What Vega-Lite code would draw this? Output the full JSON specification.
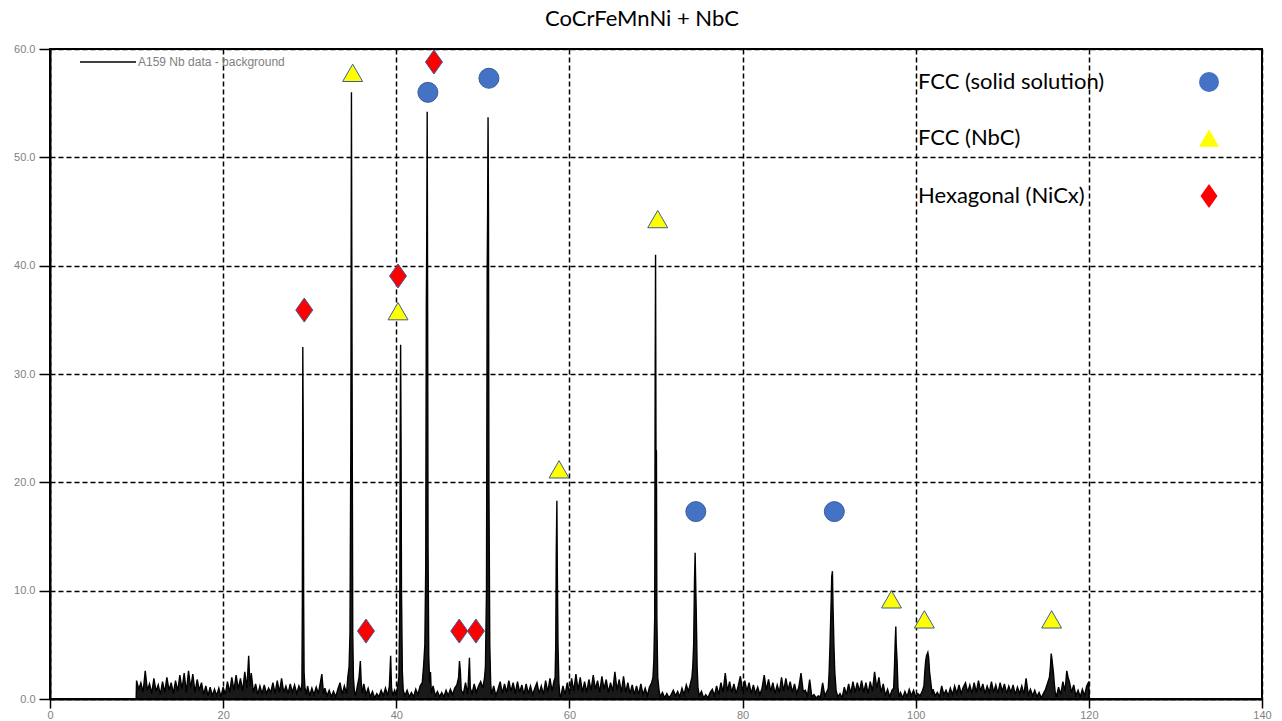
{
"$schema": "https://vega.github.io/schema/vega-lite/v6.json",
"width": 1212, "height": 650,
"autosize": {"type": "none"},
"padding": {"left": 50, "top": 49, "right": 20, "bottom": 22},
"background": "white",
"title": {"text": "CoCrFeMnNi + NbC", "font": "Lato", "fontSize": 22, "fontWeight": "normal", "color": "black", "anchor": "middle", "dx": -14, "offset": 2},
"config": {
  "view": {"stroke": "black", "strokeWidth": 2},
  "axis": {"grid": true, "gridColor": "black", "gridDash": [5, 3], "gridWidth": 1.5, "gridOpacity": 1, "domainColor": "black", "domainWidth": 2, "tickColor": "black", "tickWidth": 1.5, "labelColor": "#7f7f7f", "labelFont": "Liberation Sans", "labelFontSize": 11, "labelFlush": false, "labelOverlap": false, "title": null}
},
"datasets": {
"xrd": [
{"x":9.95,"y":0},{"x":10.0,"y":1.7},{"x":10.25,"y":0.9},{"x":10.5,"y":1.5},{"x":10.75,"y":0.6},{"x":11.0,"y":2.6},{"x":11.25,"y":0.8},{"x":11.5,"y":1.4},{"x":11.75,"y":0.5},{"x":12.0,"y":1.9},{"x":12.25,"y":0.7},{"x":12.5,"y":1.3},{"x":12.75,"y":0.4},{"x":13.0,"y":1.6},{"x":13.25,"y":0.6},{"x":13.5,"y":2.0},{"x":13.75,"y":0.8},{"x":14.0,"y":1.5},{"x":14.25,"y":0.5},{"x":14.5,"y":1.7},{"x":14.75,"y":0.7},{"x":15.0,"y":2.2},{"x":15.25,"y":0.9},{"x":15.5,"y":2.4},{"x":15.75,"y":0.6},{"x":16.0,"y":2.6},{"x":16.25,"y":1.0},{"x":16.5,"y":2.3},{"x":16.75,"y":0.6},{"x":17.0,"y":1.8},{"x":17.25,"y":0.8},{"x":17.5,"y":1.5},{"x":17.75,"y":0.4},{"x":18.0,"y":1.2},{"x":18.25,"y":0.3},{"x":18.5,"y":1.1},{"x":18.75,"y":0.3},{"x":19.0,"y":0.9},{"x":19.25,"y":0.3},{"x":19.5,"y":1.0},{"x":19.75,"y":0.2},{"x":20.0,"y":1.1},{"x":20.25,"y":0.4},{"x":20.5,"y":1.6},{"x":20.75,"y":0.6},{"x":21.0,"y":2.0},{"x":21.25,"y":0.8},{"x":21.5,"y":2.2},{"x":21.75,"y":0.9},{"x":22.0,"y":1.9},{"x":22.25,"y":0.7},{"x":22.5,"y":2.5},{"x":22.75,"y":1.0},{"x":22.95,"y":4.0},{"x":23.1,"y":1.2},{"x":23.25,"y":2.4},{"x":23.5,"y":0.6},{"x":23.75,"y":1.4},{"x":24.0,"y":0.4},{"x":24.25,"y":1.2},{"x":24.5,"y":0.5},{"x":24.75,"y":1.3},{"x":25.0,"y":0.5},{"x":25.25,"y":1.0},{"x":25.5,"y":0.6},{"x":25.75,"y":1.5},{"x":26.0,"y":0.5},{"x":26.25,"y":1.7},{"x":26.5,"y":0.6},{"x":26.75,"y":1.9},{"x":27.0,"y":0.6},{"x":27.25,"y":1.2},{"x":27.5,"y":0.5},{"x":27.75,"y":1.4},{"x":28.0,"y":0.6},{"x":28.25,"y":1.3},{"x":28.5,"y":0.5},{"x":28.75,"y":1.2},{"x":29.0,"y":0.7},
{"x":29.1,"y":1.5},{"x":29.15,"y":8.8},{"x":29.2,"y":32.5},{"x":29.25,"y":24.8},{"x":29.3,"y":9.0},{"x":29.35,"y":2.5},{"x":29.45,"y":1.0},
{"x":29.6,"y":0.4},{"x":29.75,"y":1.2},{"x":30.0,"y":0.3},{"x":30.25,"y":1.0},{"x":30.5,"y":0.4},{"x":30.75,"y":1.1},{"x":31.0,"y":0.5},{"x":31.25,"y":1.6},{"x":31.4,"y":2.3},{"x":31.6,"y":0.4},{"x":31.75,"y":1.0},{"x":32.0,"y":0.3},{"x":32.25,"y":0.8},{"x":32.5,"y":0.2},{"x":32.75,"y":0.7},{"x":33.0,"y":0.2},{"x":33.25,"y":0.9},{"x":33.5,"y":1.5},{"x":33.75,"y":0.4},{"x":34.0,"y":1.2},{"x":34.25,"y":0.5},{"x":34.4,"y":2.0},
{"x":34.55,"y":3.0},{"x":34.65,"y":6.0},{"x":34.75,"y":23.5},{"x":34.82,"y":56.0},{"x":34.87,"y":38.0},{"x":34.92,"y":22.0},{"x":34.97,"y":6.0},{"x":35.05,"y":2.0},{"x":35.15,"y":0.8},
{"x":35.3,"y":0.3},{"x":35.5,"y":1.2},{"x":35.7,"y":2.0},{"x":35.85,"y":3.5},{"x":35.95,"y":1.5},{"x":36.1,"y":0.5},{"x":36.25,"y":1.4},{"x":36.5,"y":0.4},{"x":36.75,"y":1.0},{"x":37.0,"y":0.2},{"x":37.25,"y":0.7},{"x":37.5,"y":0.1},{"x":37.75,"y":0.5},{"x":38.0,"y":0.2},{"x":38.25,"y":0.8},{"x":38.5,"y":0.3},{"x":38.75,"y":1.0},{"x":39.0,"y":0.3},{"x":39.2,"y":1.2},{"x":39.35,"y":4.0},{"x":39.45,"y":1.0},{"x":39.6,"y":0.3},{"x":39.8,"y":0.8},{"x":40.0,"y":0.3},{"x":40.15,"y":1.2},
{"x":40.3,"y":2.0},{"x":40.4,"y":8.0},{"x":40.45,"y":23.5},{"x":40.5,"y":32.7},{"x":40.55,"y":24.0},{"x":40.6,"y":10.0},{"x":40.7,"y":2.5},{"x":40.8,"y":0.8},
{"x":41.0,"y":0.3},{"x":41.25,"y":0.8},{"x":41.5,"y":0.2},{"x":41.75,"y":0.6},{"x":42.0,"y":0.2},{"x":42.25,"y":0.9},{"x":42.5,"y":0.4},{"x":42.75,"y":1.2},{"x":43.0,"y":1.5},{"x":43.15,"y":3.0},
{"x":43.3,"y":5.0},{"x":43.4,"y":12.0},{"x":43.47,"y":36.3},{"x":43.52,"y":42.6},{"x":43.57,"y":54.2},{"x":43.62,"y":36.0},{"x":43.67,"y":14.0},{"x":43.75,"y":4.0},{"x":43.85,"y":1.5},{"x":43.95,"y":2.5},
{"x":44.05,"y":0.5},{"x":44.25,"y":1.2},{"x":44.5,"y":0.3},{"x":44.75,"y":0.7},{"x":45.0,"y":0.2},{"x":45.25,"y":0.6},{"x":45.5,"y":0.2},{"x":45.75,"y":0.8},{"x":46.0,"y":0.3},{"x":46.25,"y":0.9},{"x":46.5,"y":0.4},{"x":46.75,"y":1.0},{"x":47.0,"y":1.3},{"x":47.2,"y":2.0},{"x":47.3,"y":3.5},{"x":47.4,"y":2.6},{"x":47.5,"y":0.8},{"x":47.75,"y":0.5},{"x":48.0,"y":1.5},{"x":48.25,"y":0.4},{"x":48.45,"y":3.8},{"x":48.55,"y":1.0},{"x":48.75,"y":0.5},{"x":49.0,"y":1.4},{"x":49.25,"y":0.6},{"x":49.5,"y":1.2},{"x":49.75,"y":1.6},{"x":50.0,"y":1.0},{"x":50.2,"y":2.0},
{"x":50.3,"y":3.0},{"x":50.42,"y":10.0},{"x":50.5,"y":39.3},{"x":50.55,"y":45.0},{"x":50.6,"y":53.7},{"x":50.65,"y":45.0},{"x":50.7,"y":20.0},{"x":50.8,"y":5.0},{"x":50.9,"y":1.5},
{"x":51.0,"y":0.4},{"x":51.25,"y":1.2},{"x":51.5,"y":0.3},{"x":51.75,"y":0.9},{"x":52.0,"y":1.6},{"x":52.25,"y":0.5},{"x":52.5,"y":1.4},{"x":52.75,"y":0.6},{"x":53.0,"y":1.7},{"x":53.25,"y":0.7},{"x":53.5,"y":1.5},{"x":53.75,"y":0.5},{"x":54.0,"y":1.6},{"x":54.25,"y":0.6},{"x":54.5,"y":1.3},{"x":54.75,"y":0.4},{"x":55.0,"y":1.4},{"x":55.25,"y":0.5},{"x":55.5,"y":1.2},{"x":55.75,"y":0.4},{"x":56.0,"y":1.0},{"x":56.25,"y":1.5},{"x":56.5,"y":0.5},{"x":56.75,"y":1.2},{"x":57.0,"y":0.4},{"x":57.25,"y":1.7},{"x":57.5,"y":0.6},{"x":57.75,"y":1.9},{"x":58.0,"y":0.7},{"x":58.2,"y":1.6},
{"x":58.35,"y":2.0},{"x":58.42,"y":5.0},{"x":58.48,"y":13.5},{"x":58.55,"y":18.3},{"x":58.6,"y":12.0},{"x":58.68,"y":5.0},{"x":58.78,"y":1.5},
{"x":58.9,"y":0.3},{"x":59.0,"y":0.2},{"x":59.25,"y":1.2},{"x":59.5,"y":0.4},{"x":59.75,"y":1.5},{"x":60.0,"y":0.5},{"x":60.25,"y":1.9},{"x":60.5,"y":0.7},{"x":60.75,"y":2.3},{"x":61.0,"y":0.8},{"x":61.25,"y":2.0},{"x":61.5,"y":0.6},{"x":61.75,"y":1.6},{"x":62.0,"y":0.6},{"x":62.25,"y":1.8},{"x":62.5,"y":0.8},{"x":62.75,"y":2.2},{"x":63.0,"y":0.9},{"x":63.25,"y":1.7},{"x":63.5,"y":0.6},{"x":63.75,"y":2.1},{"x":64.0,"y":0.9},{"x":64.25,"y":1.8},{"x":64.5,"y":0.6},{"x":64.75,"y":1.5},{"x":65.0,"y":0.7},{"x":65.25,"y":2.5},{"x":65.5,"y":0.8},{"x":65.75,"y":1.8},{"x":66.0,"y":0.6},{"x":66.25,"y":2.1},{"x":66.5,"y":0.6},{"x":66.75,"y":1.5},{"x":67.0,"y":0.5},{"x":67.25,"y":1.3},{"x":67.5,"y":0.4},{"x":67.75,"y":1.2},{"x":68.0,"y":0.4},{"x":68.25,"y":1.4},{"x":68.5,"y":0.4},{"x":68.75,"y":1.0},{"x":69.0,"y":0.3},{"x":69.25,"y":1.1},{"x":69.5,"y":1.5},
{"x":69.65,"y":2.0},{"x":69.75,"y":3.5},{"x":69.85,"y":7.5},{"x":69.9,"y":28.6},{"x":69.95,"y":41.0},{"x":70.0,"y":23.0},{"x":70.05,"y":22.9},{"x":70.1,"y":7.5},{"x":70.2,"y":2.0},{"x":70.35,"y":0.8},
{"x":70.5,"y":0.2},{"x":70.75,"y":0.6},{"x":71.0,"y":0.1},{"x":71.25,"y":0.5},{"x":71.5,"y":0.1},{"x":71.75,"y":0.4},{"x":72.0,"y":0.8},{"x":72.25,"y":0.3},{"x":72.5,"y":0.7},{"x":72.75,"y":0.2},{"x":73.0,"y":1.0},{"x":73.25,"y":0.4},{"x":73.5,"y":1.3},{"x":73.75,"y":0.7},{"x":74.0,"y":1.5},
{"x":74.15,"y":2.0},{"x":74.25,"y":3.0},{"x":74.35,"y":5.0},{"x":74.45,"y":11.0},{"x":74.52,"y":13.5},{"x":74.57,"y":11.3},{"x":74.65,"y":8.0},{"x":74.75,"y":3.0},{"x":74.85,"y":1.0},
{"x":75.0,"y":0.3},{"x":75.25,"y":0.7},{"x":75.5,"y":0.1},{"x":75.75,"y":0.4},{"x":76.0,"y":0.1},{"x":76.25,"y":0.6},{"x":76.5,"y":0.9},{"x":76.75,"y":0.3},{"x":77.0,"y":1.2},{"x":77.25,"y":0.4},{"x":77.5,"y":1.5},{"x":77.75,"y":0.6},{"x":78.0,"y":2.4},{"x":78.25,"y":0.7},{"x":78.5,"y":1.6},{"x":78.75,"y":0.6},{"x":79.0,"y":1.4},{"x":79.25,"y":0.5},{"x":79.5,"y":1.2},{"x":79.75,"y":2.1},{"x":80.0,"y":0.7},{"x":80.25,"y":1.7},{"x":80.5,"y":0.7},{"x":80.75,"y":1.5},{"x":81.0,"y":0.5},{"x":81.25,"y":1.3},{"x":81.5,"y":0.5},{"x":81.75,"y":1.1},{"x":82.0,"y":0.4},{"x":82.25,"y":1.0},{"x":82.5,"y":2.2},{"x":82.75,"y":0.8},{"x":83.0,"y":1.8},{"x":83.25,"y":0.7},{"x":83.5,"y":1.5},{"x":83.75,"y":0.5},{"x":84.0,"y":1.3},{"x":84.25,"y":0.6},{"x":84.5,"y":2.0},{"x":84.75,"y":0.7},{"x":85.0,"y":1.9},{"x":85.25,"y":0.8},{"x":85.5,"y":1.6},{"x":85.75,"y":0.6},{"x":86.0,"y":1.4},{"x":86.25,"y":0.5},{"x":86.5,"y":1.1},{"x":86.75,"y":2.4},{"x":87.0,"y":0.7},{"x":87.25,"y":0.8},{"x":87.5,"y":0.3},{"x":87.75,"y":1.8},{"x":88.0,"y":0.2},{"x":88.25,"y":0.4},{"x":88.5,"y":0.1},{"x":88.75,"y":0.3},{"x":89.0,"y":0.2},{"x":89.25,"y":1.5},{"x":89.5,"y":0.3},{"x":89.75,"y":0.7},
{"x":89.9,"y":1.0},{"x":90.0,"y":2.5},{"x":90.1,"y":5.0},{"x":90.2,"y":8.0},{"x":90.3,"y":11.3},{"x":90.38,"y":11.8},{"x":90.45,"y":8.5},{"x":90.55,"y":5.0},{"x":90.65,"y":2.5},{"x":90.8,"y":0.8},
{"x":91.0,"y":0.2},{"x":91.25,"y":0.5},{"x":91.5,"y":0.1},{"x":91.75,"y":1.1},{"x":92.0,"y":0.4},{"x":92.25,"y":1.4},{"x":92.5,"y":0.5},{"x":92.75,"y":1.6},{"x":93.0,"y":0.6},{"x":93.25,"y":1.5},{"x":93.5,"y":0.7},{"x":93.75,"y":1.7},{"x":94.0,"y":0.6},{"x":94.25,"y":1.5},{"x":94.5,"y":0.5},{"x":94.75,"y":1.6},{"x":95.0,"y":0.7},{"x":95.25,"y":2.5},{"x":95.5,"y":1.0},{"x":95.75,"y":2.0},{"x":96.0,"y":0.6},{"x":96.25,"y":1.4},{"x":96.5,"y":0.3},{"x":96.75,"y":0.9},{"x":97.0,"y":0.2},{"x":97.25,"y":0.8},
{"x":97.45,"y":1.0},{"x":97.55,"y":3.0},{"x":97.62,"y":5.0},{"x":97.7,"y":6.7},{"x":97.75,"y":5.0},{"x":97.85,"y":3.5},{"x":97.95,"y":1.0},
{"x":98.1,"y":0.2},{"x":98.25,"y":0.6},{"x":98.5,"y":0.1},{"x":98.75,"y":0.7},{"x":99.0,"y":0.2},{"x":99.25,"y":0.9},{"x":99.5,"y":0.3},{"x":99.75,"y":0.8},{"x":100.0,"y":0.2},{"x":100.25,"y":0.5},{"x":100.5,"y":0.3},{"x":100.75,"y":0.7},
{"x":100.95,"y":1.2},{"x":101.05,"y":2.5},{"x":101.15,"y":3.5},{"x":101.25,"y":4.0},{"x":101.4,"y":4.3},{"x":101.5,"y":3.8},{"x":101.6,"y":2.5},{"x":101.75,"y":1.5},
{"x":101.9,"y":0.4},{"x":102.0,"y":0.9},{"x":102.25,"y":0.3},{"x":102.5,"y":0.6},{"x":102.75,"y":0.2},{"x":103.0,"y":1.2},{"x":103.25,"y":0.4},{"x":103.5,"y":0.8},{"x":103.75,"y":0.3},{"x":104.0,"y":1.0},{"x":104.25,"y":0.4},{"x":104.5,"y":1.2},{"x":104.75,"y":0.5},{"x":105.0,"y":1.3},{"x":105.25,"y":0.5},{"x":105.5,"y":1.1},{"x":105.75,"y":1.5},{"x":106.0,"y":0.6},{"x":106.25,"y":1.3},{"x":106.5,"y":0.5},{"x":106.75,"y":1.5},{"x":107.0,"y":0.6},{"x":107.25,"y":1.7},{"x":107.5,"y":0.7},{"x":107.75,"y":1.4},{"x":108.0,"y":0.5},{"x":108.25,"y":1.2},{"x":108.5,"y":0.6},{"x":108.75,"y":1.6},{"x":109.0,"y":0.6},{"x":109.25,"y":1.3},{"x":109.5,"y":0.5},{"x":109.75,"y":1.5},{"x":110.0,"y":0.7},{"x":110.25,"y":1.4},{"x":110.5,"y":0.5},{"x":110.75,"y":1.2},{"x":111.0,"y":0.6},{"x":111.25,"y":1.3},{"x":111.5,"y":0.4},{"x":111.75,"y":1.1},{"x":112.0,"y":0.5},{"x":112.25,"y":1.2},{"x":112.5,"y":0.4},{"x":112.75,"y":1.9},{"x":113.0,"y":0.4},{"x":113.25,"y":0.9},{"x":113.5,"y":0.3},{"x":113.75,"y":0.8},{"x":114.0,"y":0.2},{"x":114.25,"y":0.6},{"x":114.5,"y":0.1},{"x":114.75,"y":0.5},{"x":115.0,"y":0.9},{"x":115.25,"y":1.5},
{"x":115.45,"y":2.0},{"x":115.55,"y":2.8},{"x":115.65,"y":4.2},{"x":115.72,"y":3.8},{"x":115.8,"y":3.2},{"x":115.9,"y":2.5},{"x":116.0,"y":1.5},{"x":116.1,"y":0.7},
{"x":116.25,"y":0.2},{"x":116.5,"y":1.1},{"x":116.75,"y":0.4},{"x":117.0,"y":1.6},{"x":117.25,"y":0.7},{"x":117.45,"y":2.6},{"x":117.6,"y":2.0},{"x":117.75,"y":1.6},{"x":118.0,"y":0.6},{"x":118.25,"y":1.3},{"x":118.5,"y":0.3},{"x":118.75,"y":0.8},{"x":119.0,"y":0.2},{"x":119.25,"y":0.9},{"x":119.5,"y":0.3},{"x":119.75,"y":1.2},{"x":120.0,"y":1.6},{"x":120.05,"y":0}
],
"markers": [
{"phase":"FCC (solid solution)","x":43.65,"y":56.0},
{"phase":"FCC (solid solution)","x":50.7,"y":57.3},
{"phase":"FCC (solid solution)","x":74.6,"y":17.3},
{"phase":"FCC (solid solution)","x":90.6,"y":17.3},
{"phase":"FCC (NbC)","x":34.96,"y":57.8},
{"phase":"FCC (NbC)","x":40.2,"y":35.8},
{"phase":"FCC (NbC)","x":58.8,"y":21.2},
{"phase":"FCC (NbC)","x":70.2,"y":44.3},
{"phase":"FCC (NbC)","x":97.2,"y":9.2},
{"phase":"FCC (NbC)","x":101.0,"y":7.35},
{"phase":"FCC (NbC)","x":115.7,"y":7.35},
{"phase":"Hexagonal (NiCx)","x":29.37,"y":35.9},
{"phase":"Hexagonal (NiCx)","x":36.5,"y":6.27},
{"phase":"Hexagonal (NiCx)","x":40.2,"y":39.05},
{"phase":"Hexagonal (NiCx)","x":44.35,"y":58.8},
{"phase":"Hexagonal (NiCx)","x":47.27,"y":6.27},
{"phase":"Hexagonal (NiCx)","x":49.2,"y":6.27}
]
},
"layer": [
{
  "data": {"name": "xrd"},
  "mark": {"type": "area", "color": "black", "opacity": 0.9, "interpolate": "linear"},
  "encoding": {
    "x": {"field": "x", "type": "quantitative", "scale": {"domain": [0, 140], "nice": false, "zero": false},
          "axis": {"values": [0, 20, 40, 60, 80, 100, 120, 140], "format": "d", "tickSize": 9, "labelPadding": 1}},
    "y": {"field": "y", "type": "quantitative", "scale": {"domain": [0, 60], "nice": false},
          "axis": {"values": [0, 10, 20, 30, 40, 50, 60], "format": ".1f", "tickSize": 11, "labelPadding": 4}}
  }
},
{
  "data": {"name": "xrd"},
  "mark": {"type": "line", "strokeWidth": 1.4, "interpolate": "linear"},
  "encoding": {
    "x": {"field": "x", "type": "quantitative"},
    "y": {"field": "y", "type": "quantitative"},
    "stroke": {"datum": "A159  Nb data - background", "type": "nominal", "scale": {"range": ["black"]},
               "legend": {"orient": "none", "legendX": 29, "legendY": -16, "title": null, "symbolType": "stroke", "symbolSize": 3136, "symbolStrokeWidth": 1.5, "symbolStrokeColor": "black", "labelColor": "#7f7f7f", "labelFont": "Liberation Sans", "labelFontSize": 12, "labelOffset": 1, "padding": 0}}
  }
},
{
  "data": {"name": "markers"},
  "mark": {"type": "point", "filled": true, "size": 400, "stroke": "#3B5E9A", "strokeWidth": 1, "opacity": 1},
  "encoding": {
    "x": {"field": "x", "type": "quantitative"},
    "y": {"field": "y", "type": "quantitative"},
    "fill": {"field": "phase", "type": "nominal",
             "scale": {"domain": ["FCC (solid solution)", "FCC (NbC)", "Hexagonal (NiCx)"], "range": ["#4472C4", "#FFFF00", "#FF0000"]},
             "legend": {"orient": "none", "legendX": 1148, "legendY": 22, "title": null, "symbolSize": 400, "symbolStrokeColor": "#3B5E9A", "symbolStrokeWidth": 1, "symbolOpacity": 1, "labelFont": "Lato", "labelFontSize": 22, "labelColor": "black", "labelOffset": -302, "labelLimit": 400, "rowPadding": 33, "padding": 0}},
    "shape": {"field": "phase", "type": "nominal",
              "scale": {"domain": ["FCC (solid solution)", "FCC (NbC)", "Hexagonal (NiCx)"], "range": ["circle", "triangle-up", "M0,-1.2L0.85,0L0,1.2L-0.85,0Z"]},
              "legend": {"orient": "none", "legendX": 1148, "legendY": 22, "title": null, "symbolSize": 400, "symbolStrokeColor": "#3B5E9A", "symbolStrokeWidth": 1, "symbolOpacity": 1, "labelFont": "Lato", "labelFontSize": 22, "labelColor": "black", "labelOffset": -302, "labelLimit": 400, "rowPadding": 33, "padding": 0}}
  }
}
]
}
